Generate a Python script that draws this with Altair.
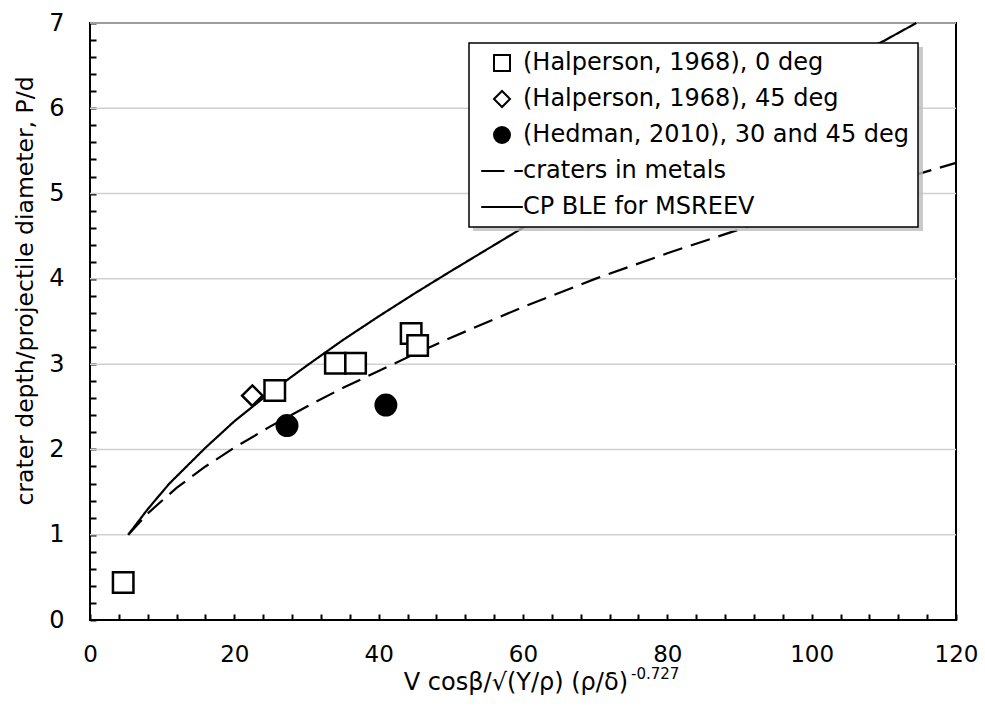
import altair as alt
import pandas as pd

# ---------------- data ----------------
series_names = [
    "(Halperson, 1968), 0 deg",
    "(Halperson, 1968), 45 deg",
    "(Hedman, 2010), 30 and 45 deg",
    "craters in metals",
    "CP BLE for MSREEV",
]

halp0_x = [4.6, 25.6, 34.0, 36.8, 44.5, 45.4]
halp0_y = [0.44, 2.69, 3.01, 3.01, 3.36, 3.22]

halp45_x = [22.5]
halp45_y = [2.63]

hedman_x = [27.3, 41.0]
hedman_y = [2.28, 2.52]

metals_x = [5.3, 8, 12, 16, 20, 25, 30, 35, 40, 45, 50, 60, 70, 80, 90, 100, 110, 120]
metals_y = [1.0, 1.25, 1.55, 1.80, 2.02, 2.27, 2.50, 2.72, 2.92, 3.12, 3.31, 3.67, 4.00, 4.30, 4.58, 4.85, 5.11, 5.36]

ble_x = [5.3, 8, 11, 16, 20, 25, 30, 35, 40, 45, 50, 60, 70, 80, 90, 100, 110, 114.5]
ble_y = [1.0, 1.30, 1.60, 2.02, 2.33, 2.67, 2.98, 3.28, 3.56, 3.83, 4.09, 4.60, 5.08, 5.53, 5.96, 6.38, 6.79, 7.0]

x_ticks = list(range(0, 121, 4))
y_ticks = [round(i * 0.2, 1) for i in range(36)]
grid_y = [1, 2, 3, 4, 5, 6, 7]

x_title = "V cos\u03b2/\u221a(Y/\u03c1) (\u03c1/\u03b4)"
x_title_sup = "-0.727"
y_title = "crater depth/projectile diameter, P/d"

# ---------------- tables ----------------
pts = pd.concat([
    pd.DataFrame({"x": halp0_x, "y": halp0_y, "series": series_names[0]}),
    pd.DataFrame({"x": halp45_x, "y": halp45_y, "series": series_names[1]}),
    pd.DataFrame({"x": hedman_x, "y": hedman_y, "series": series_names[2]}),
], ignore_index=True)

lines = pd.concat([
    pd.DataFrame({"x": metals_x, "y": metals_y, "series": series_names[3], "o": range(len(metals_x))}),
    pd.DataFrame({"x": ble_x, "y": ble_y, "series": series_names[4], "o": range(len(ble_x))}),
], ignore_index=True)

grid = pd.DataFrame({"y": grid_y})

FONT = "DejaVu Sans"
W, H = 866, 597

xscale = alt.Scale(domain=[0, 120], nice=False, zero=False)
yscale = alt.Scale(domain=[0, 7], nice=False, zero=False)

xaxis = alt.Axis(
    values=x_ticks, title=None, grid=False, domain=False,
    offset=-6, tickSize=6, tickWidth=2, tickColor="black",
    labelExpr="datum.value % 20 === 0 ? datum.label : ''",
    labelFont=FONT, labelFontSize=23, labelColor="black", labelPadding=23,
    labelFlush=False, labelOverlap=False,
)
yaxis = alt.Axis(
    values=y_ticks, title=None, grid=False, domain=False,
    offset=-6, tickSize=6, tickWidth=2, tickColor="black",
    labelExpr="abs(datum.value - round(datum.value)) < 0.001 ? format(round(datum.value), 'd') : ''",
    labelFont=FONT, labelFontSize=24, labelColor="black", labelPadding=26,
    labelFlush=False, labelOverlap=False,
)

legend = alt.Legend(
    title=None, orient="none", legendX=379, legendY=20,
    strokeColor="black", fillColor="white", padding=8,
    labelFont=FONT, labelFontSize=24, labelColor="black", labelLimit=600,
    symbolSize=256, symbolStrokeWidth=2, symbolStrokeColor="black",
    symbolOffset=13, labelOffset=9, rowPadding=12,
)

shape_range = [
    "square", "diamond", "circle",
    "M-2.6,0L0.3,0M1.55,0L2.6,0",
    "M-2.6,0L2.6,0",
]
fill_range = ["white", "white", "black", "transparent", "transparent"]
stroke_range = ["black"] * 5

grid_layer = alt.Chart(grid).mark_rule(color="#d0d0d0", strokeWidth=1.5).encode(
    y=alt.Y("y:Q", scale=yscale, axis=yaxis)
)

line_layer = alt.Chart(lines).mark_line(color="black", strokeWidth=2.2).encode(
    x=alt.X("x:Q", scale=xscale, axis=xaxis),
    y=alt.Y("y:Q", scale=yscale, axis=yaxis),
    strokeDash=alt.StrokeDash(
        "series:N",
        scale=alt.Scale(domain=series_names[3:], range=[[20, 9], [1, 0]]),
        legend=None,
    ),
    order="o:Q",
)

point_layer = alt.Chart(pts).mark_point(
    filled=True, strokeWidth=2.5, size=420, opacity=1
).encode(
    x=alt.X("x:Q", scale=xscale, axis=xaxis),
    y=alt.Y("y:Q", scale=yscale, axis=yaxis),
    shape=alt.Shape("series:N", scale=alt.Scale(domain=series_names, range=shape_range), legend=legend),
    fill=alt.Fill("series:N", scale=alt.Scale(domain=series_names, range=fill_range), legend=legend),
    stroke=alt.Stroke("series:N", scale=alt.Scale(domain=series_names, range=stroke_range), legend=legend),
)

# soft shadow behind the legend box (decoration)
shadow = alt.Chart(pd.DataFrame({"a": [0]})).mark_rect(color="#bdbdbd", opacity=0.8).encode(
    x=alt.value(383), x2=alt.value(833), y=alt.value(24), y2=alt.value(208)
)

title_df = pd.DataFrame({"t": [x_title], "s": [x_title_sup], "yt": [y_title]})

xt_main = alt.Chart(title_df).mark_text(
    font=FONT, fontSize=24, color="black", align="right", baseline="alphabetic"
).encode(text="t:N", x=alt.value(538), y=alt.value(667))

xt_sup = alt.Chart(title_df).mark_text(
    font=FONT, fontSize=15, color="black", align="left", baseline="alphabetic"
).encode(text="s:N", x=alt.value(541), y=alt.value(656))

yt = alt.Chart(title_df).mark_text(
    font=FONT, fontSize=23.5, color="black", align="center", baseline="alphabetic", angle=270
).encode(text="yt:N", x=alt.value(-57), y=alt.value(268))

chart = alt.layer(grid_layer, line_layer, point_layer, shadow, xt_main, xt_sup, yt).properties(
    width=W, height=H,
    autosize=alt.AutoSizeParams(type="none"),
    padding={"left": 90, "top": 23, "right": 29, "bottom": 100},
    background="white",
).configure_view(stroke="black", strokeWidth=2).configure_legend(strokeWidth=1.5)

chart.save("out.html", embed_options={"renderer": "svg", "actions": False})
